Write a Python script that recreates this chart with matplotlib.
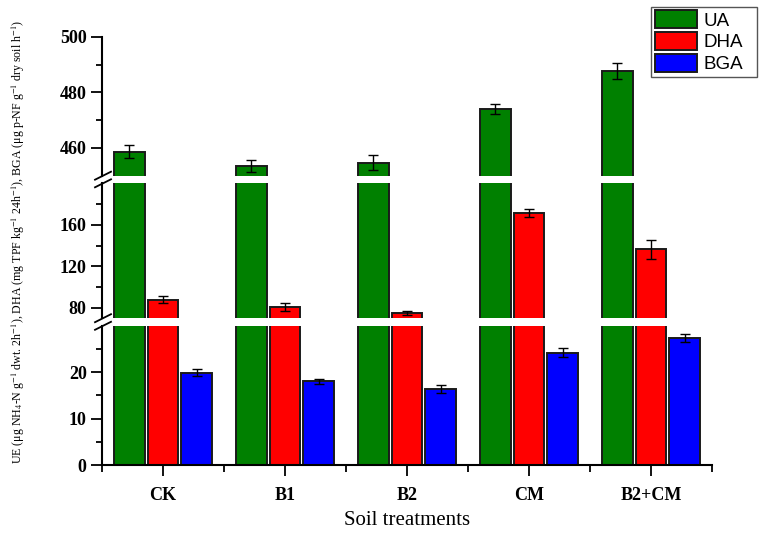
import matplotlib
matplotlib.use("Agg")
import matplotlib.pyplot as plt
import numpy as np

# ---- data ----
categories = ["CK", "B1", "B2", "CM", "B2+CM"]
series_names = ["UA", "DHA", "BGA"]
ua = [458.6, 453.5, 454.7, 473.9, 487.7]
ua_err = [2.3, 2.0, 2.6, 1.8, 2.8]
dha = [88.1, 81.3, 74.9, 171.5, 136.3]
dha_err = [3.8, 3.8, 2.0, 3.8, 9.0]
bga = [19.9, 18.0, 16.3, 24.2, 27.3]
bga_err = [0.8, 0.5, 0.9, 0.9, 0.9]
colors = ["#008000", "#FF0000", "#0000FF"]

# segments of broken axis (bottom, middle, top)
seg_limits = [(0, 30), (70, 200), (450, 500)]
seg_major = [[0, 10, 20], [80, 120, 160], [460, 480, 500]]
seg_minor = [[5, 15, 25], [100, 140, 180], [470, 490]]

plt.rcParams["font.family"] = ["Liberation Serif", "DejaVu Serif"]
plt.rcParams["mathtext.fontset"] = "stix"

W, H = 762, 533
fig = plt.figure(figsize=(W / 100, H / 100), dpi=100)

left = 102 / W
width = (712 - 102) / W
seg_pix = [(325.7, 465.0), (183.3, 318.3), (36.7, 175.7)]
axes = []
for (ytop, ybot) in seg_pix:
    ax = fig.add_axes([left, 1 - ybot / H, width, (ybot - ytop) / H])
    axes.append(ax)

x = np.arange(len(categories))
bw = 0.25
offs = [-0.275, 0.0, 0.275]
vals = [ua, dha, bga]
errs = [ua_err, dha_err, bga_err]

for i, ax in enumerate(axes):
    for s in range(3):
        ax.bar(x + offs[s], vals[s], width=bw, color=colors[s],
               edgecolor="#1a1a1a", linewidth=1.4, label=series_names[s], zorder=2)
        ax.errorbar(x + offs[s], vals[s], yerr=errs[s], fmt="none", ecolor="black",
                    elinewidth=1.0, capsize=3.8, capthick=1.0, zorder=3)
    ax.set_xlim(-0.5, 4.5)
    ax.set_ylim(*seg_limits[i])
    ax.set_yticks(seg_major[i])
    ax.set_yticks(seg_minor[i], minor=True)
    ax.tick_params(axis="y", which="major", direction="out", length=8, width=1.3,
                   labelsize=13, pad=3)
    ax.tick_params(axis="y", which="minor", direction="out", length=4.5, width=1.3)
    for lab in ax.get_yticklabels():
        lab.set_fontweight("bold")
    ax.spines["top"].set_visible(False)
    ax.spines["right"].set_visible(False)
    ax.spines["left"].set_linewidth(1.5)
    if i == 0:
        ax.spines["bottom"].set_linewidth(1.5)
        ax.set_xticks(x)
        ax.set_xticklabels(categories, fontsize=13, fontweight="bold")
        ax.set_xticks(np.concatenate([[-0.5], x[:-1] + 0.5, [4.5]]), minor=True)
        ax.tick_params(axis="x", which="major", direction="out", length=8, width=1.3, pad=8)
        ax.tick_params(axis="x", which="minor", direction="out", length=5, width=1.3)
        ax.set_xlabel("Soil treatments", fontsize=15, labelpad=5)
    else:
        ax.spines["bottom"].set_visible(False)
        ax.set_xticks([])

# break marks on left spine
def brk(yc):
    for dy in (-3.8, 3.8):
        y = yc + dy
        fig.add_artist(plt.Line2D([95 / W, 111 / W],
                                  [1 - (y + 4) / H, 1 - (y - 4) / H],
                                  color="black", lw=1.3, transform=fig.transFigure))

brk((175.7 + 183.3) / 2)
brk((318.3 + 325.7) / 2)

# y label
ylabel = (r"UE (μg NH$_4$-N g$^{-1}$ dwt. 2h$^{-1}$), DHA (mg TPF kg$^{-1}$ 24h$^{-1}$), "
          r"BGA (μg p-NF g$^{-1}$ dry soil h$^{-1}$)")
yl = fig.text(18 / W, 1 - 241.5 / H, ylabel, rotation=90, ha="center", va="center",
              fontsize=9.5)
fig.canvas.draw()
ext = yl.get_window_extent(fig.canvas.get_renderer())
yl.set_fontsize(9.5 * 447.0 / ext.height)

# legend
handles, labels = axes[0].get_legend_handles_labels()
lx0, lx1 = 651 / W, 757 / W
ly1 = 1 - 6.7 / H
leg = fig.legend(handles, labels, loc="upper left",
                 bbox_to_anchor=(lx0, ly1 - 0.2, lx1 - lx0, 0.2), mode="expand",
                 bbox_transform=fig.transFigure,
                 prop={"family": ["Liberation Sans", "DejaVu Sans"], "size": 13.5},
                 handlelength=2.25, handleheight=1.05, labelspacing=0.15,
                 handletextpad=0.35, borderpad=0.2, borderaxespad=0,
                 fancybox=False, edgecolor="#555555", framealpha=1)
leg.get_frame().set_linewidth(1.0)

fig.savefig("out.png", dpi=100)
